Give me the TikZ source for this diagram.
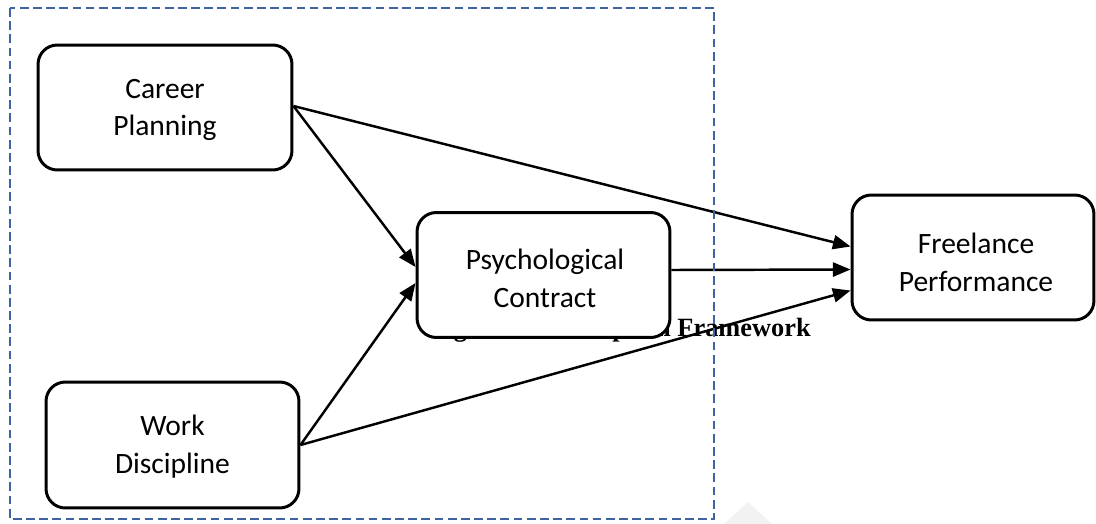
\documentclass[tikz,border=0pt]{standalone}
\usepackage{fontspec}
\setmainfont{Carlito}
\newfontfamily\capfont{Liberation Serif}
\usetikzlibrary{arrows.meta,calc}
\definecolor{dashblue}{HTML}{3F62A0}
\begin{document}
\begin{tikzpicture}[x=0.02cm,y=-0.02cm,
  box/.style={draw=black,line width=1.7pt,rounded corners=11pt,fill=white,
    minimum width=#1,minimum height=2.5cm,inner sep=0pt},
  lbl/.style={align=center,font=\fontsize{16.8}{21.5}\selectfont,inner sep=0pt},
  arr/.style={line width=1.4pt,-{Triangle[length=10pt,width=8pt]}},
  frame/.style={draw=dashblue,line width=1.3pt,dash pattern=on 5pt off 2.5pt}]
\useasboundingbox (0,0) rectangle (1096,524);
% faint watermark shape
\fill[black!5] (724,524) -- (748,502) -- (772,524) -- cycle;
% caption (partly hidden behind the box)
\node[font=\capfont\bfseries\fontsize{15}{18}\selectfont,anchor=base east,inner sep=0pt] (cap) at (811,336) {Figure 1: Conceptual Framework};
% boxes
\node[box=5.08cm,minimum height=2.5cm] (cp) at (165,107.5) {};
\begin{scope}
\clip (38,45) rectangle (292,140);
\node[lbl] (cpt) at (165,110) {Career\\Planning};
\end{scope}
\node[box=5.06cm,minimum height=2.5cm] (pc) at (543.5,275) {};
\node[lbl] (pct) at (545,278) {Psychological\\Contract};
\node[box=4.84cm,minimum height=2.5cm] (fp) at (973,257.5) {};
\node[lbl] (fpt) at (976,262) {Freelance\\Performance};
\node[box=5.06cm,minimum height=2.52cm] (wd) at (172.5,445) {};
\node[lbl] (wdt) at (172.5,447) {Work\\Discipline};
% connectors
\draw[arr] ($(cp.east)+(0,-1.5)$) -- ($(fp.west)+(0,-11)$);
\draw[arr] ($(cp.east)+(0,-1.5)$) -- ($(pc.west)+(0,-8)$);
\draw[arr] ($(pc.east)+(0,-5)$) -- ($(fp.west)+(0,12)$);
\draw[arr] (wd.east) -- ($(pc.west)+(0,8)$);
\draw[arr] (wd.east) -- ($(fp.west)+(0,33)$);
% dashed frame
\draw[frame] (10,8) rectangle (714,519);
\end{tikzpicture}
\end{document}
